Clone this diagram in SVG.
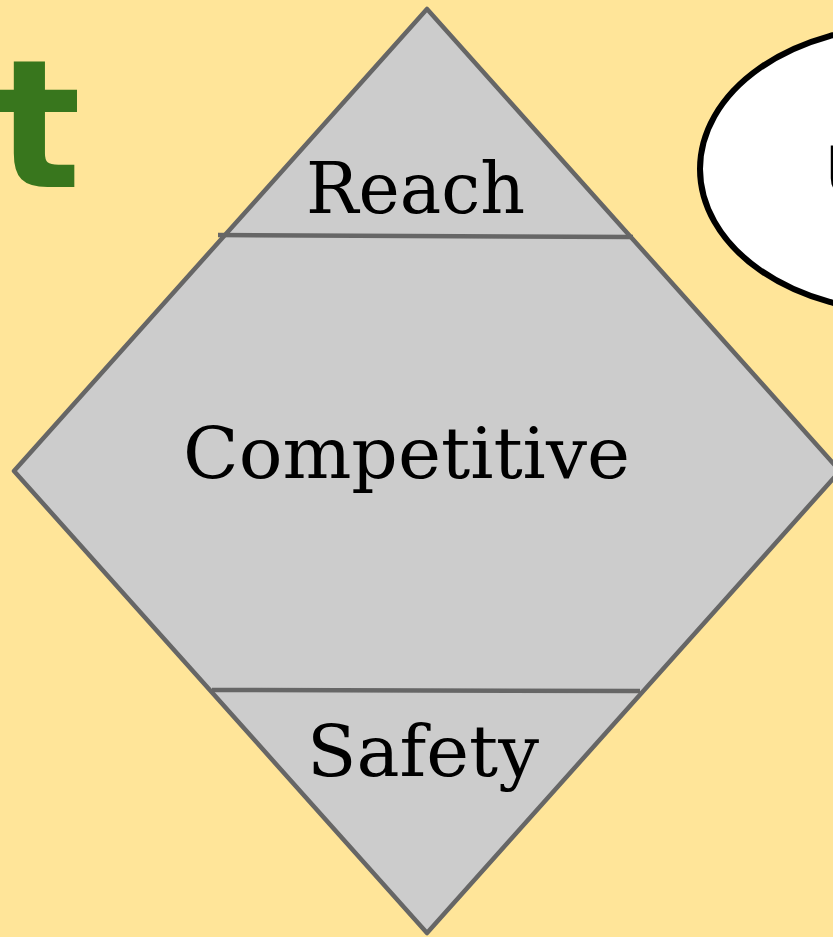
<svg xmlns="http://www.w3.org/2000/svg" width="833" height="937" viewBox="0 0 833 937">
  <style>
    .lbl { font-family: "DejaVu Serif", "Liberation Serif", serif; font-size: 71px; fill: #000; }
    .div { stroke: #666666; stroke-width: 4.5; fill: none; stroke-linecap: butt; }
  </style>
  <rect x="0" y="0" width="833" height="937" fill="#FFE599"/>
  <g id="title-fragment">
    <text x="-4" y="187" font-family="DejaVu Sans, sans-serif" font-weight="bold" font-size="178" fill="#38761D">t</text>
  </g>
  <g id="diamond">
    <polygon points="427,9 840,471 427,933 14,471" fill="#CCCCCC" stroke="#666666" stroke-width="4.5" stroke-linejoin="round"/>
  </g>
  <g id="connectors">
    <line class="div" x1="218" y1="235" x2="633" y2="237"/>
    <line class="div" x1="212" y1="690" x2="640" y2="691"/>
  </g>
  <g id="reach">
    <text class="lbl" x="306" y="213" textLength="219" lengthAdjust="spacingAndGlyphs">Reach</text>
  </g>
  <g id="competitive">
    <text class="lbl" x="183" y="478" textLength="447" lengthAdjust="spacingAndGlyphs">Competitive</text>
  </g>
  <g id="safety">
    <text class="lbl" x="307" y="776" textLength="232" lengthAdjust="spacingAndGlyphs">Safety</text>
  </g>
  <g id="speech-bubble">
    <ellipse cx="905" cy="169" rx="205" ry="143" fill="#FFFFFF" stroke="#000000" stroke-width="6"/>
    <text x="825" y="197" font-family="Liberation Sans, Arial, sans-serif" font-size="75" fill="#000">U</text>
  </g>
</svg>
